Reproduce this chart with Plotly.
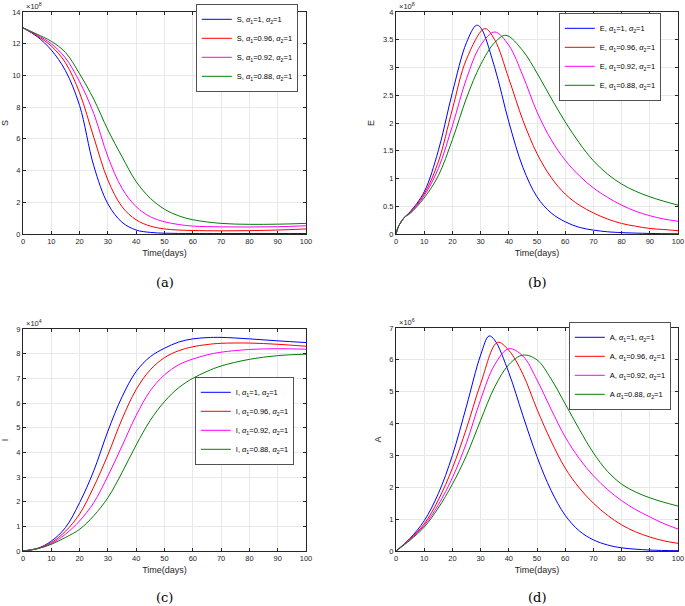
import plotly.graph_objects as go
from plotly.subplots import make_subplots

# values, in the units shown on each y axis
alphas = ["1", "0.96", "0.92", "0.88"]
colors = ["#0000ff", "#ff0000", "#ff00ff", "#008000"]

# (a) S, x10^8
s_t = [0, 5, 10, 15, 20, 25, 30, 35, 40, 45, 50, 55, 60, 70, 80, 90, 100]
s_v = [
    [13, 12.45, 11.6, 10.3, 8.1, 4.3, 1.9, 0.74, 0.25, 0.1, 0.05, 0.035, 0.03, 0.03, 0.03, 0.03, 0.03],
    [13, 12.5, 11.85, 10.8, 8.9, 6.1, 3.4, 1.72, 0.89, 0.5, 0.32, 0.25, 0.22, 0.2, 0.21, 0.25, 0.32],
    [13, 12.55, 12.0, 11.1, 9.6, 7.6, 4.87, 2.88, 1.72, 1.09, 0.77, 0.6, 0.5, 0.45, 0.44, 0.46, 0.52],
    [13, 12.6, 12.15, 11.45, 10.1, 8.5, 6.56, 4.87, 3.3, 2.25, 1.56, 1.15, 0.9, 0.67, 0.61, 0.62, 0.67],
]

# (b) E, x10^8
e_t = [
    [0, 1, 3, 5, 10, 15, 20, 25, 28.5, 30, 35, 40, 45, 50, 55, 60, 65, 70, 75, 80, 90, 100],
    [0, 1, 3, 5, 10, 15, 20, 25, 31.5, 35, 40, 45, 50, 55, 60, 65, 70, 75, 80, 85, 90, 95, 100],
    [0, 1, 3, 5, 10, 15, 20, 25, 30, 35, 40, 45, 50, 55, 60, 65, 70, 75, 80, 85, 90, 95, 100],
    [0, 1, 3, 5, 10, 15, 20, 25, 30, 35, 39, 45, 50, 55, 60, 65, 70, 75, 80, 85, 90, 95, 100],
]
e_v = [
    [0, 0.15, 0.3, 0.4, 0.76, 1.5, 2.55, 3.45, 3.76, 3.72, 3.0, 2.02, 1.2, 0.67, 0.38, 0.22, 0.12, 0.07, 0.04, 0.025, 0.01, 0.004],
    [0, 0.15, 0.3, 0.39, 0.72, 1.3, 2.25, 3.15, 3.7, 3.5, 2.8, 2.05, 1.45, 1.02, 0.72, 0.52, 0.38, 0.27, 0.19, 0.14, 0.1, 0.08, 0.06],
    [0, 0.15, 0.3, 0.38, 0.69, 1.18, 1.95, 2.8, 3.4, 3.64, 3.4, 2.85, 2.2, 1.7, 1.33, 1.05, 0.83, 0.66, 0.52, 0.41, 0.33, 0.27, 0.23],
    [0, 0.15, 0.3, 0.37, 0.65, 1.05, 1.7, 2.45, 3.05, 3.45, 3.58, 3.3, 2.9, 2.45, 2.02, 1.64, 1.32, 1.08, 0.9, 0.77, 0.67, 0.59, 0.52],
]

# (c) I, x10^4
i_t = [0, 5, 10, 15, 20, 25, 30, 35, 40, 45, 50, 55, 60, 65, 70, 80, 90, 100]
i_v = [
    [0, 0.1, 0.4, 0.95, 1.96, 3.25, 4.86, 6.25, 7.28, 7.88, 8.22, 8.47, 8.6, 8.65, 8.66, 8.6, 8.52, 8.45],
    [0, 0.1, 0.34, 0.8, 1.5, 2.6, 3.9, 5.35, 6.55, 7.35, 7.84, 8.12, 8.28, 8.37, 8.42, 8.43, 8.38, 8.3],
    [0, 0.09, 0.3, 0.68, 1.22, 1.96, 3.04, 4.26, 5.5, 6.5, 7.14, 7.55, 7.78, 7.95, 8.06, 8.17, 8.2, 8.18],
    [0, 0.09, 0.27, 0.55, 0.88, 1.43, 2.16, 3.18, 4.3, 5.3, 6.06, 6.62, 7.0, 7.28, 7.5, 7.77, 7.92, 7.98],
]

# (d) A, x10^6
a_t = [
    [0, 5, 10, 15, 20, 25, 30, 33, 35, 40, 45, 50, 55, 60, 65, 70, 75, 80, 90, 100],
    [0, 5, 10, 15, 20, 25, 30, 36, 40, 45, 50, 55, 60, 65, 70, 75, 80, 85, 90, 95, 100],
    [0, 5, 10, 15, 20, 25, 30, 35, 40, 45, 50, 55, 60, 65, 70, 75, 80, 85, 90, 95, 100],
    [0, 5, 10, 15, 20, 25, 30, 35, 40, 45, 50, 55, 60, 65, 70, 75, 80, 85, 90, 95, 100],
]
a_v = [
    [0, 0.4, 0.95, 1.8, 3.0, 4.55, 6.15, 6.75, 6.62, 5.6, 4.25, 2.96, 1.9, 1.12, 0.63, 0.35, 0.19, 0.1, 0.03, 0.01],
    [0, 0.38, 0.85, 1.6, 2.6, 3.85, 5.25, 6.55, 6.3, 5.55, 4.45, 3.45, 2.6, 1.98, 1.5, 1.12, 0.82, 0.6, 0.44, 0.32, 0.24],
    [0, 0.36, 0.8, 1.45, 2.3, 3.4, 4.75, 5.85, 6.35, 6.12, 5.37, 4.45, 3.58, 2.9, 2.36, 1.93, 1.58, 1.3, 1.07, 0.86, 0.69],
    [0, 0.34, 0.75, 1.35, 2.1, 3.0, 4.1, 5.15, 5.85, 6.15, 6.0, 5.4, 4.62, 3.82, 3.08, 2.5, 2.1, 1.85, 1.67, 1.53, 1.41],
]

panels = [
    ("S", [s_t] * 4, s_v, 14, 2, "8", "(a)"),
    ("E", e_t, e_v, 4, 0.5, "8", "(b)"),
    ("I", [i_t] * 4, i_v, 9, 1, "4", "(c)"),
    ("A", a_t, a_v, 7, 1, "6", "(d)"),
]

W, H = 685, 606
# axes boxes in pixels: x0, x1, y_top, y_bottom
boxes = [(23, 306, 12, 234), (396, 678, 12, 234), (23, 306, 329, 551), (396, 678, 328, 551)]
# legend right edge and vertical centre
legend_pos = [(298, 48), (661, 57), (294, 421), (671, 366)]
title_gap = [9, 6, 9, 6]
caption_gap = [48, 48, 46, 46]

fig = make_subplots(rows=2, cols=2)
txt = "#262626"
font = "Liberation Sans, Arial, sans-serif"

for k, (name, ts, vs, ymax, dtick, expo, cap) in enumerate(panels):
    row, col = k // 2 + 1, k % 2 + 1
    leg = "legend" if k == 0 else f"legend{k + 1}"
    for j in range(4):
        sep = " " if (k == 3 and j == 3) else ", "
        label = f"{name}{sep}<i>α</i><sub>1</sub>={alphas[j]}, <i>α</i><sub>2</sub>=1"
        fig.add_trace(
            go.Scatter(
                x=ts[j], y=vs[j], mode="lines", name=label,
                line=dict(color=colors[j], width=1, shape="spline", smoothing=1.0),
                legend=leg,
            ),
            row=row, col=col,
        )
    x0, x1, yt, yb = boxes[k]
    sfx = "" if k == 0 else str(k + 1)
    fig.layout["xaxis" + sfx].update(
        domain=[x0 / W, x1 / W], range=[0, 100], dtick=10,
        title=dict(text="Time(days)", standoff=4, font=dict(size=9, color=txt)),
    )
    fig.layout["yaxis" + sfx].update(
        domain=[1 - yb / H, 1 - yt / H], range=[0, ymax], dtick=dtick,
        title=dict(text=name, standoff=title_gap[k], font=dict(size=9, color=txt)),
    )
    lx, ly = legend_pos[k]
    fig.layout[leg] = dict(
        x=lx / W, y=1 - ly / H, xanchor="right", yanchor="middle",
        bgcolor="white", bordercolor="#262626", borderwidth=0.8,
        font=dict(size=7.5, color="black", family=font),
        tracegroupgap=0, itemwidth=30,
    )
    fig.add_annotation(
        x=x0 / W, y=1 - yt / H, xref="paper", yref="paper",
        xanchor="left", yanchor="bottom", yshift=-1, xshift=1,
        text=f"×10<sup>{expo}</sup>", showarrow=False,
        font=dict(size=7.5, color=txt, family=font),
    )
    fig.add_annotation(
        x=(x0 + x1) / 2 / W, y=1 - (yb + caption_gap[k]) / H, xref="paper", yref="paper",
        xanchor="center", yanchor="middle",
        text=cap, showarrow=False,
        font=dict(size=13, color="black", family="DejaVu Serif, serif"),
    )

axis_style = dict(
    showline=True, linecolor=txt, linewidth=1, mirror="ticks",
    ticks="inside", ticklen=3, tickcolor=txt,
    showgrid=True, gridcolor="#e8e8e8", gridwidth=1, zeroline=False,
    tickfont=dict(size=7.5, color=txt, family=font),
    ticklabeloverflow="allow", automargin=False,
)
fig.update_xaxes(**axis_style)
fig.update_yaxes(**axis_style)
fig.update_layout(
    width=W, height=H, margin=dict(l=0, r=0, t=0, b=0, autoexpand=False),
    plot_bgcolor="white", paper_bgcolor="white",
    font=dict(family=font, color=txt),
)

# the page's default body margin would push the figure 8px off the window
fig.write_html(
    "out.html",
    config={"displayModeBar": False},
    post_script="document.body.style.margin='0';document.body.style.overflow='hidden';",
)
